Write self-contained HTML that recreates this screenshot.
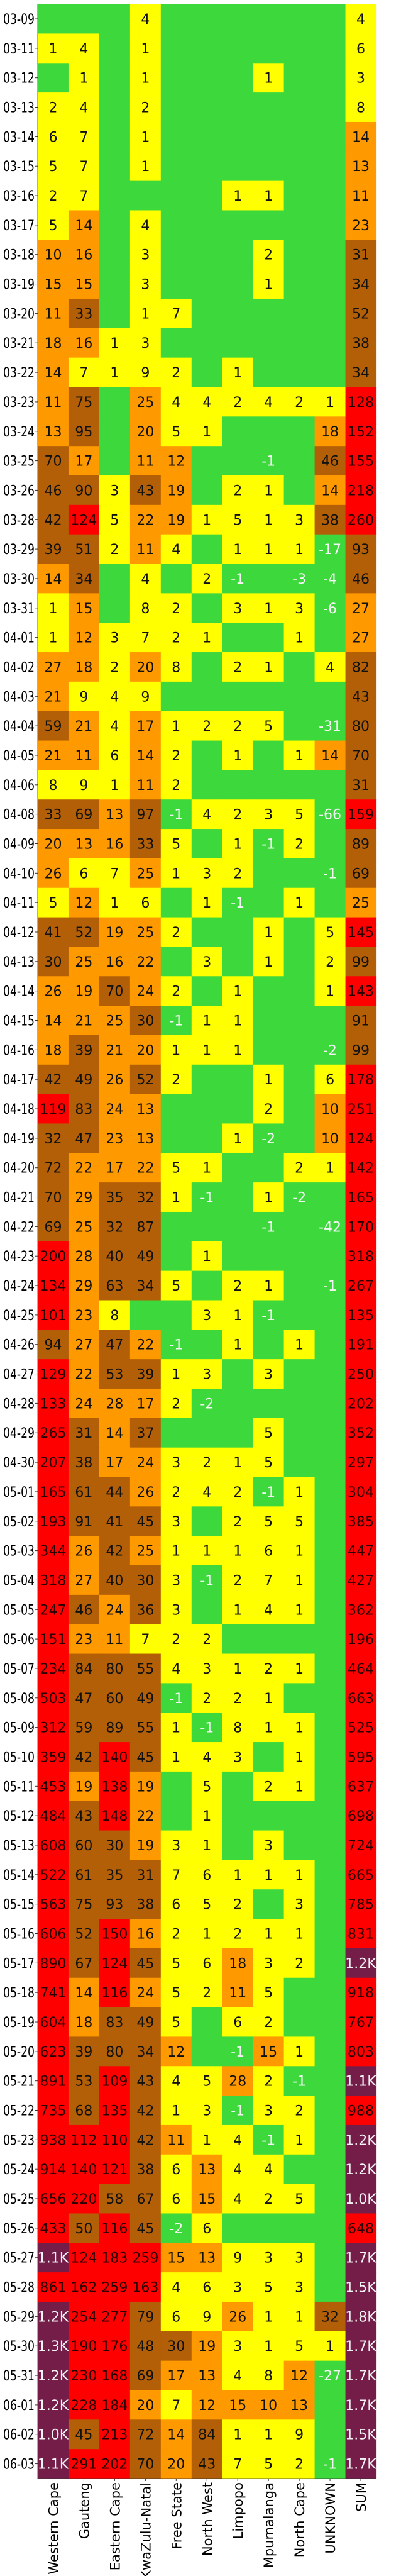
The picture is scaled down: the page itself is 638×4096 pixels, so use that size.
<!DOCTYPE html>
<html><head><meta charset="utf-8">
<style>
html,body{margin:0;padding:0;background:#fff;}
svg{display:block;font-family:"DejaVu Sans","Liberation Sans",sans-serif;}
</style></head>
<body>
<svg id="chart" width="638" height="4096" viewBox="0 0 638 4096" xmlns="http://www.w3.org/2000/svg"></svg>
<script>
const dates = ["03-09","03-11","03-12","03-13","03-14","03-15","03-16","03-17","03-18","03-19","03-20","03-21","03-22","03-23","03-24","03-25","03-26","03-28","03-29","03-30","03-31","04-01","04-02","04-03","04-04","04-05","04-06","04-08","04-09","04-10","04-11","04-12","04-13","04-14","04-15","04-16","04-17","04-18","04-19","04-20","04-21","04-22","04-23","04-24","04-25","04-26","04-27","04-28","04-29","04-30","05-01","05-02","05-03","05-04","05-05","05-06","05-07","05-08","05-09","05-10","05-11","05-12","05-13","05-14","05-15","05-16","05-17","05-18","05-19","05-20","05-21","05-22","05-23","05-24","05-25","05-26","05-27","05-28","05-29","05-30","05-31","06-01","06-02","06-03"];
const provinces = ["Western Cape","Gauteng","Eastern Cape","KwaZulu-Natal","Free State","North West","Limpopo","Mpumalanga","North Cape","UNKNOWN","SUM"];
const westernCape = [0,1,0,2,6,5,2,5,10,15,11,18,14,11,13,70,46,42,39,14,1,1,27,21,59,21,8,33,20,26,5,41,30,26,14,18,42,119,32,72,70,69,200,134,101,94,129,133,265,207,165,193,344,318,247,151,234,503,312,359,453,484,608,522,563,606,890,741,604,623,891,735,938,914,656,433,1100,861,1200,1300,1200,1200,1000,1100];
const gauteng = [0,4,1,4,7,7,7,14,16,15,33,16,7,75,95,17,90,124,51,34,15,12,18,9,21,11,9,69,13,6,12,52,25,19,21,39,49,83,47,22,29,25,28,29,23,27,22,24,31,38,61,91,26,27,46,23,84,47,59,42,19,43,60,61,75,52,67,14,18,39,53,68,112,140,220,50,124,162,254,190,230,228,45,291];
const easternCape = [0,0,0,0,0,0,0,0,0,0,0,1,1,0,0,0,3,5,2,0,0,3,2,4,4,6,1,13,16,7,1,19,16,70,25,21,26,24,23,17,35,32,40,63,8,47,53,28,14,17,44,41,42,40,24,11,80,60,89,140,138,148,30,35,93,150,124,116,83,80,109,135,110,121,58,116,183,259,277,176,168,184,213,202];
const kwazuluNatal = [4,1,1,2,1,1,0,4,3,3,1,3,9,25,20,11,43,22,11,4,8,7,20,9,17,14,11,97,33,25,6,25,22,24,30,20,52,13,13,22,32,87,49,34,0,22,39,17,37,24,26,45,25,30,36,7,55,49,55,45,19,22,19,31,38,16,45,24,49,34,43,42,42,38,67,45,259,163,79,48,69,20,72,70];
const freeState = [0,0,0,0,0,0,0,0,0,0,7,0,2,4,5,12,19,19,4,0,2,2,8,0,1,2,2,-1,5,1,0,2,0,2,-1,1,2,0,0,5,1,0,0,5,0,-1,1,2,0,3,2,3,1,3,3,2,4,-1,1,1,0,0,3,7,6,2,5,5,5,12,4,1,11,6,6,-2,15,4,6,30,17,7,14,20];
const northWest = [0,0,0,0,0,0,0,0,0,0,0,0,0,4,1,0,0,1,0,2,0,1,0,0,2,0,0,4,0,3,1,0,3,0,1,1,0,0,0,1,-1,0,1,0,3,0,3,-2,0,2,4,0,1,-1,0,2,3,2,-1,4,5,1,1,6,5,1,6,2,0,0,5,3,1,13,15,6,13,6,9,19,13,12,84,43];
const limpopo = [0,0,0,0,0,0,1,0,0,0,0,0,1,2,0,0,2,5,1,-1,3,0,2,0,2,1,0,2,1,2,-1,0,0,1,1,1,0,0,1,0,0,0,0,2,1,1,0,0,0,1,2,2,1,2,1,0,1,2,8,3,0,0,0,1,2,2,18,11,6,-1,28,-1,4,4,4,0,9,3,26,3,4,15,1,7];
const mpumalanga = [0,0,1,0,0,0,1,0,2,1,0,0,0,4,0,-1,1,1,1,0,1,0,1,0,5,0,0,3,-1,0,0,1,1,0,0,0,1,2,-2,0,1,-1,0,1,-1,0,3,0,5,5,-1,5,6,7,4,0,2,1,1,0,2,0,3,1,0,1,3,5,2,15,2,3,-1,4,2,0,3,5,1,1,8,10,1,5];
const northCape = [0,0,0,0,0,0,0,0,0,0,0,0,0,2,0,0,0,3,1,-3,3,1,0,0,0,1,0,5,2,0,1,0,0,0,0,0,0,0,0,2,-2,0,0,0,0,1,0,0,0,0,1,5,1,1,1,0,1,0,1,1,1,0,0,1,3,1,2,0,0,1,-1,2,1,0,5,0,3,3,1,5,12,13,9,2];
const unknown = [0,0,0,0,0,0,0,0,0,0,0,0,0,1,18,46,14,38,-17,-4,-6,0,4,0,-31,14,0,-66,0,-1,0,5,2,1,0,-2,6,10,10,1,0,-42,0,-1,0,0,0,0,0,0,0,0,0,0,0,0,0,0,0,0,0,0,0,0,0,0,0,0,0,0,0,0,0,0,0,0,0,0,32,1,-27,0,0,-1];
const sums = [4,6,3,8,14,13,11,23,31,34,52,38,34,128,152,155,218,260,93,46,27,27,82,43,80,70,31,159,89,69,25,145,99,143,91,99,178,251,124,142,165,170,318,267,135,191,250,202,352,297,304,385,447,427,362,196,464,663,525,595,637,698,724,665,785,831,1170,918,767,803,1134,988,1218,1240,1033,648,1700,1466,1800,1700,1700,1700,1500,1700];
const columns = [westernCape,gauteng,easternCape,kwazuluNatal,freeState,northWest,limpopo,mpumalanga,northCape,unknown,sums];

const NS = "http://www.w3.org/2000/svg";
const svg = document.getElementById("chart");
const X0 = 60, X1 = 598.5, Y0 = 6.6, Y1 = 3941;
const cw = (X1 - X0) / provinces.length;
const rh = (Y1 - Y0) / dates.length;
function xPos(c){ return X0 + c * cw; }
function yPos(r){ return Y0 + r * rh; }
function colorFor(v){
  if (v <= 0) return "#3cd83c";
  if (v < 10) return "#ffff00";
  if (v < 30) return "#ff9900";
  if (v < 100) return "#b35f07";
  if (v < 1000) return "#ff0000";
  return "#751d49";
}
function textColorFor(v){
  if (v <= 0 || v >= 1000) return "#f4f4f4";
  if (v >= 100) return "#2a0000";
  return "#111";
}
function fmt(v){
  if (v >= 1000) return (v / 1000).toFixed(1) + "K";
  return String(v);
}
function mk(tag, attrs){
  const e = document.createElementNS(NS, tag);
  for (const k in attrs) e.setAttribute(k, attrs[k]);
  return e;
}
const cells = mk("g", {});


svg.appendChild(cells);
const labels = mk("g", {"font-size": "22", "text-anchor": "middle"});


svg.appendChild(labels);

for (let r = 0; r < dates.length; r++) {
  for (let c = 0; c < provinces.length; c++) {
    const v = columns[c][r];
    const rect = mk("rect", {x: xPos(c), y: yPos(r), width: cw + 0.6, height: rh + 0.6, fill: colorFor(v)});
    
    
    cells.appendChild(rect);
    if (v !== 0) {
      const t = mk("text", {x: xPos(c) + cw / 2, y: yPos(r) + rh / 2 + 8, fill: textColorFor(v)});
      
      
      t.textContent = fmt(v);
      labels.appendChild(t);
    }
  }
}
const border = mk("rect", {x: X0, y: Y0, width: X1 - X0, height: Y1 - Y0, fill: "none", stroke: "#333", "stroke-width": "0.8"});


svg.appendChild(border);

const yAxis = mk("g", {"font-size": "22", "text-anchor": "end", fill: "#000"});


svg.appendChild(yAxis);
for (let r = 0; r < dates.length; r++) {
  const cy = yPos(r) + rh / 2;
  const tick = mk("line", {x1: X0 - 4, x2: X0, y1: cy, y2: cy, stroke: "#333", "stroke-width": "1"});
  
  
  yAxis.appendChild(tick);
  const t = mk("text", {x: X0 - 5, y: cy + 8, textLength: "50", lengthAdjust: "spacingAndGlyphs"});
  
  
  t.textContent = dates[r];
  yAxis.appendChild(t);
}
const xAxis = mk("g", {"font-size": "21", "text-anchor": "end", fill: "#000"});


svg.appendChild(xAxis);
for (let c = 0; c < provinces.length; c++) {
  const cx = xPos(c) + cw / 2;
  const tick = mk("line", {x1: cx, x2: cx, y1: Y1, y2: Y1 + 4, stroke: "#333", "stroke-width": "1"});
  
  
  xAxis.appendChild(tick);
  const ty = Y1 + 6;
  const t = mk("text", {x: cx + 8, y: ty, transform: "rotate(-90 " + (cx + 8) + " " + ty + ")"});
  
  
  t.textContent = provinces[c];
  xAxis.appendChild(t);
}
</script>
</body></html>
